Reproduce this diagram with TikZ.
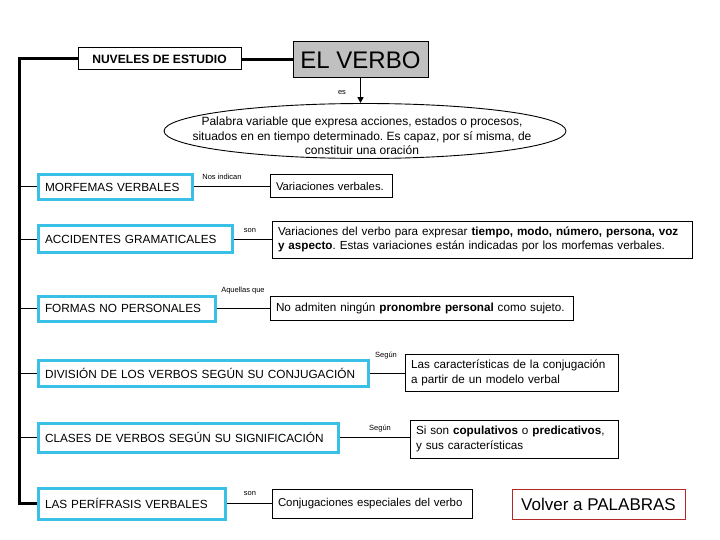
\documentclass[tikz,border=0pt]{standalone}
\usepackage{fontspec}
\setmainfont{Liberation Sans}
\usetikzlibrary{shapes.geometric,arrows.meta}
\frenchspacing
\definecolor{cyanb}{RGB}{56,192,230}
\definecolor{grayf}{RGB}{192,192,192}
\definecolor{redb}{RGB}{180,40,40}
\tikzset{
  cbox/.style={draw=cyanb, line width=3pt, inner xsep=7pt, inner ysep=0pt, align=left, font=\fontsize{11.8}{13}\selectfont},
  ibox/.style={draw=black, line width=0.9pt, inner xsep=6pt, inner ysep=0pt, align=left, font=\fontsize{11.7}{15}\selectfont},
  lab/.style={font=\fontsize{7.5}{8}\selectfont, inner sep=0pt},
  conn/.style={line width=1pt},
  trunk/.style={line width=3pt}
}
\begin{document}
\begin{tikzpicture}[x=1pt,y=-1pt]
\useasboundingbox (0,0) rectangle (720,540);
\fill[white] (0,0) rectangle (720,540);
% top
\node[draw=black, fill=grayf, line width=1pt, minimum width=135pt, minimum height=36pt, inner sep=0pt, font=\fontsize{24}{26}\selectfont] (verbo) at (360.5,60) {EL VERBO};
\node[draw=black, line width=1pt, minimum width=163pt, minimum height=22pt, inner sep=0pt, font=\bfseries\fontsize{12.1}{13}\selectfont] (nuv) at (159.5,59) {NUVELES DE ESTUDIO};
\node[draw=black, line width=0.9pt, ellipse, minimum width=402pt, minimum height=55pt, inner sep=0pt] (def) at (365,131) {};
\node[align=center, inner sep=0pt, font=\fontsize{12}{14.5}\selectfont] (deftext) at (362,136) {Palabra variable que expresa acciones, estados o procesos,\\situados en en tiempo determinado. Es capaz, por sí misma, de\\constituir una oración};
\draw[line width=1.5pt, -{Triangle[length=6pt,width=6pt]}] (verbo.south) -- (verbo.south |- def.north);
\node[lab] (les) at (342,93) {es};
% left boxes
\node[cbox, text width=140pt, minimum height=25pt] (morf) at (115,187) {MORFEMAS VERBALES};
\node[cbox, text width=180pt, minimum height=26pt] (acc) at (135,239) {ACCIDENTES GRAMATICALES};
\node[cbox, text width=163pt, minimum height=25pt] (formas) at (126.5,308.5) {FORMAS NO PERSONALES};
\node[cbox, text width=316pt, minimum height=26pt] (div) at (203,373) {DIVISIÓN DE LOS VERBOS SEGÚN SU CONJUGACIÓN};
\node[cbox, text width=286pt, minimum height=29pt] (clases) at (188,437.5) {CLASES DE VERBOS SEGÚN SU SIGNIFICACIÓN};
\node[cbox, text width=173pt, minimum height=31pt] (peri) at (131.5,503.5) {LAS PERÍFRASIS VERBALES};
% right boxes
\node[ibox, text width=110pt, minimum height=23pt, font=\fontsize{11.3}{14}\selectfont] (varv) at (331,186) {\mbox{Variaciones verbales.}};
\node[ibox, text width=408pt, minimum height=37pt, font=\fontsize{11.7}{14.5}\selectfont] (vard) at (482,239.5) {Variaciones del verbo para expresar \textbf{tiempo, modo, número, persona, voz y aspecto}. Estas variaciones están indicadas por los morfemas verbales.};
\node[ibox, text width=291pt, minimum height=24pt] (noad) at (421.5,308) {No admiten ningún \textbf{pronombre personal} como sujeto.};
\node[ibox, text width=201pt, minimum height=37pt] (lasc) at (511.5,372.5) {Las características de la conjugación\\a partir de un modelo verbal};
\node[ibox, text width=196pt, minimum height=38pt] (sison) at (514,439) {Si son \textbf{copulativos} o \textbf{predicativos},\\y sus características};
\node[ibox, text width=188pt, minimum height=29pt, font=\fontsize{11.4}{14}\selectfont] (conj) at (372,503.5) {\mbox{Conjugaciones especiales del verbo}};
\node[draw=redb, line width=1pt, minimum width=173pt, minimum height=30pt, inner sep=0pt, font=\fontsize{17}{18}\selectfont] (volver) at (598.5,504) {Volver a PALABRAS};
% trunk
\coordinate (ttop) at (19,59);
\coordinate (tbot) at (19,503.5);
\coordinate (t1) at (19,187);
\coordinate (t2) at (19,239);
\coordinate (t3) at (19,308.5);
\coordinate (t4) at (19,373);
\coordinate (t5) at (19,437.5);
\draw[trunk] (verbo.west) -- (verbo.west -| nuv.east);
\draw[trunk] (nuv.west) -- (ttop) -- (tbot) -- (peri.west);
\draw[conn] (t1) -- (morf.west);
\draw[conn] (t2) -- (acc.west);
\draw[conn] (t3) -- (formas.west);
\draw[conn] (t4) -- (div.west);
\draw[conn] (t5) -- (clases.west);
% connectors
\draw[conn] (morf.east) -- (morf.east -| varv.west);
\draw[conn] (acc.east) -- (acc.east -| vard.west);
\draw[conn] (formas.east) -- (formas.east -| noad.west);
\draw[conn] (div.east) -- (div.east -| lasc.west);
\draw[conn] (clases.east) -- (clases.east -| sison.west);
\draw[conn] (peri.east) -- (peri.east -| conj.west);
% labels
\node[lab] (l1) at (222,177) {Nos indican};
\node[lab] (l2) at (250,231) {son};
\node[lab] (l3) at (243,291) {Aquellas que};
\node[lab] (l4) at (386,356) {Según};
\node[lab] (l5) at (380,429) {Según};
\node[lab] (l6) at (250,494) {son};
\end{tikzpicture}
\end{document}
